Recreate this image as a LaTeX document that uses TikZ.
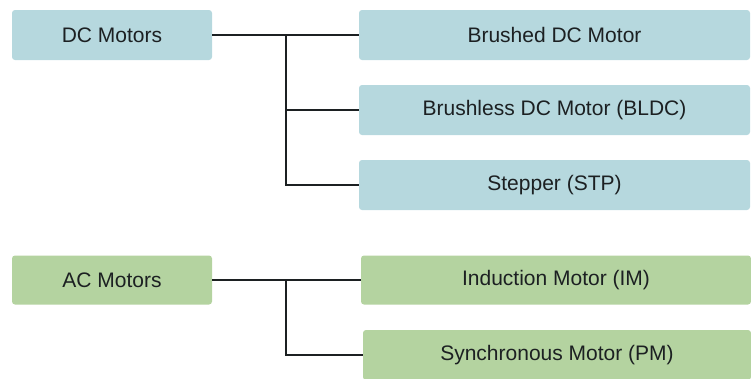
\documentclass[tikz,border=0pt]{standalone}
\usepackage{fontspec}
\setmainfont{Liberation Sans}
\usepackage{xcolor}
\definecolor{dcblue}{RGB}{182,216,222}
\definecolor{acgreen}{RGB}{180,211,160}
\definecolor{textgray}{RGB}{28,32,34}
\usetikzlibrary{positioning,calc}

\tikzset{
    motorbox/.style={rounded corners=3pt, text=textgray, font=\fontsize{21}{24}\selectfont, inner sep=0pt},
    dcbox/.style={motorbox, fill=dcblue},
    acbox/.style={motorbox, fill=acgreen},
    branch/.style={draw=textgray, line width=1.4pt}
}

\begin{document}
\begin{tikzpicture}[x=1pt,y=-1pt]
    \useasboundingbox (0,0) rectangle (751,378);

    % DC family
    \node[dcbox, minimum width=200pt, minimum height=50pt] (dc) at (112,35) {DC Motors};
    \node[dcbox, minimum width=391pt, minimum height=50pt] (brushed) at (554.5,35) {Brushed DC Motor};
    \node[dcbox, minimum width=391pt, minimum height=50pt] (bldc) at (554.5,110) {Brushless DC Motor (BLDC)};
    \node[dcbox, minimum width=391pt, minimum height=50pt] (stp) at (554.5,185) {Stepper (STP)};

    % AC family
    \node[acbox, minimum width=200pt, minimum height=49pt] (ac) at (112,280) {AC Motors};
    \node[acbox, minimum width=390pt, minimum height=49pt] (im) at (556,280) {Induction Motor (IM)};
    \node[acbox, minimum width=388pt, minimum height=50pt] (pm) at (557,355) {Synchronous Motor (PM)};

    % connectors
    \coordinate (dcfork) at (286,35);
    \coordinate (acfork) at (286,280);
    \draw[branch] (dc.east) -- (brushed.west);
    \draw[branch] (dcfork) |- (bldc.west);
    \draw[branch] (dcfork) |- (stp.west);
    \draw[branch] (ac.east) -- (im.west);
    \draw[branch] (acfork) |- (pm.west);
\end{tikzpicture}
\end{document}
